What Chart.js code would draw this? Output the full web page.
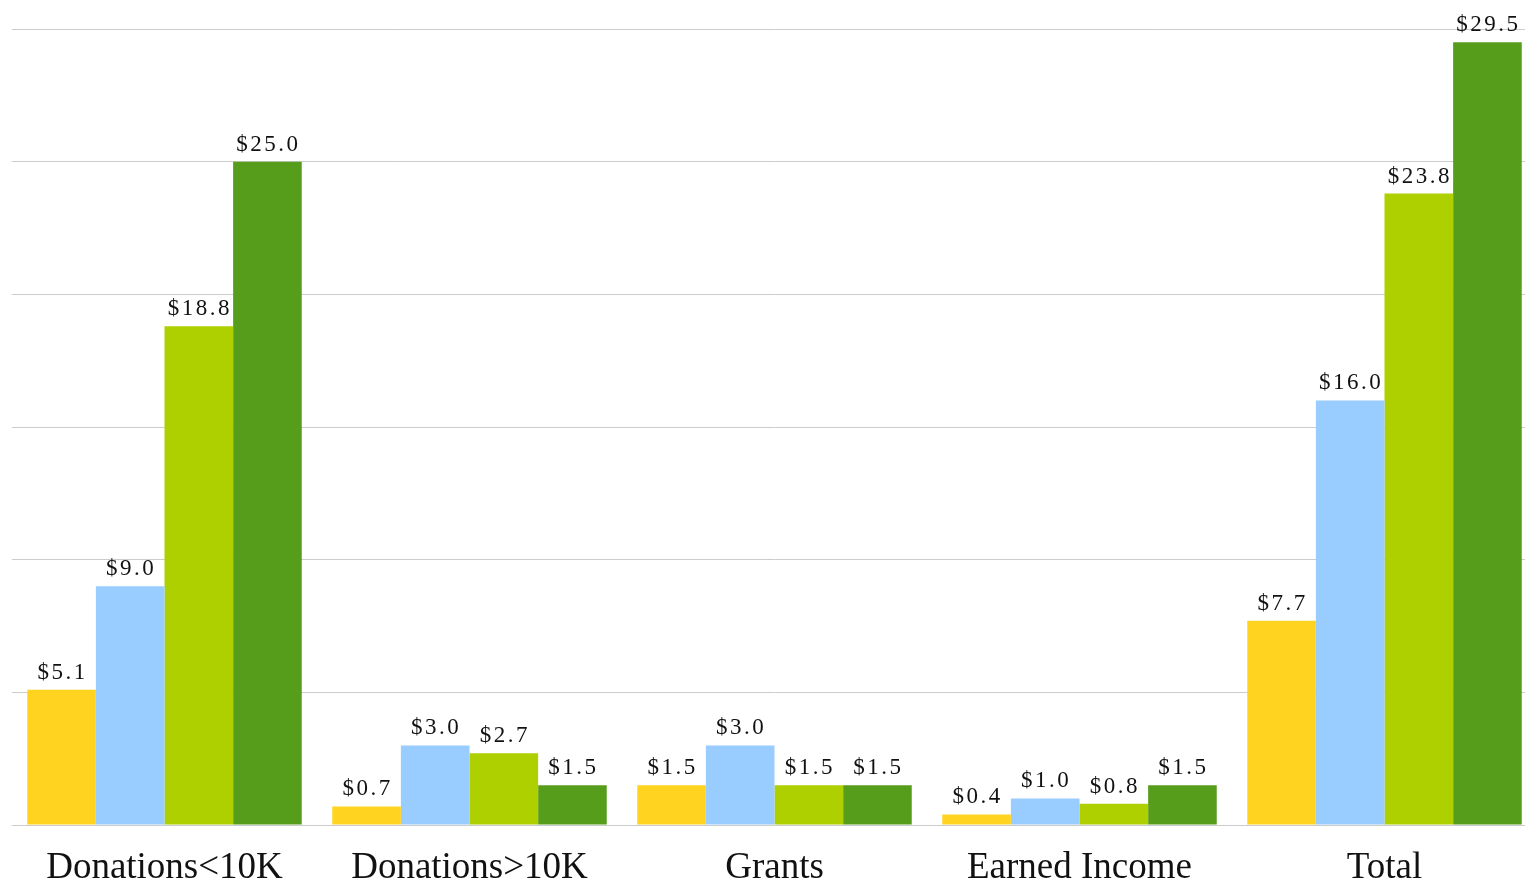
<!DOCTYPE html>
<html>
<head>
<meta charset="utf-8">
<script src="https://cdn.jsdelivr.net/npm/chart.js@4/dist/chart.umd.min.js"></script>
<style>
  html, body { margin: 0; padding: 0; background: #fff; overflow: hidden; }
  #wrap { width: 1537px; height: 879px; }
</style>
</head>
<body>
<div id="wrap"><canvas id="c" width="1537" height="879"></canvas></div>
<script>
const categories = ["Donations<10K", "Donations>10K", "Grants", "Earned Income", "Total"];
const series1 = [5.1, 0.7, 1.5, 0.4, 7.7];
const series2 = [9.0, 3.0, 3.0, 1.0, 16.0];
const series3 = [18.8, 2.7, 1.5, 0.8, 23.8];
const series4 = [25.0, 1.5, 1.5, 1.5, 29.5];
const colors = ["#FFD320", "#99CCFF", "#AECF00", "#579D1C"];

const FONT = "'Liberation Serif', 'DejaVu Serif', serif";

const labelPlugin = {
  id: 'valueLabels',
  afterDatasetsDraw(chart) {
    const ctx = chart.ctx;
    ctx.save();
    ctx.font = "23px " + FONT;
    ctx.fillStyle = "#111";
    ctx.textAlign = "center";
    ctx.textBaseline = "alphabetic";
    try { ctx.letterSpacing = "2.5px"; } catch (e) {}
    chart.data.datasets.forEach((ds, di) => {
      const meta = chart.getDatasetMeta(di);
      meta.data.forEach((bar, i) => {
        const v = ds.data[i];
        ctx.fillText("$" + v.toFixed(1), bar.x + 1, bar.y - 11);
      });
    });
    ctx.restore();
  }
};

new Chart(document.getElementById('c'), {
  type: 'bar',
  data: {
    labels: categories,
    datasets: [
      { data: series1, backgroundColor: colors[0] },
      { data: series2, backgroundColor: colors[1] },
      { data: series3, backgroundColor: colors[2] },
      { data: series4, backgroundColor: colors[3] }
    ]
  },
  options: {
    responsive: false,
    animation: false,
    layout: { padding: { left: 12, right: 0, top: 29, bottom: 0 } },
    datasets: { bar: { categoryPercentage: 0.9, barPercentage: 1.0, borderWidth: 0 } },
    plugins: { legend: { display: false }, tooltip: { enabled: false } },
    scales: {
      x: {
        grid: { display: false, drawTicks: false },
        border: { display: false },
        ticks: { font: { family: FONT, size: 37 }, color: "#111", padding: 21, maxRotation: 0, autoSkip: false },
        afterFit(scale) { scale.height = 54; }
      },
      y: {
        min: 0, max: 30,
        ticks: { display: false, stepSize: 5 },
        grid: { color: "#cccccc", lineWidth: 1, drawTicks: false },
        border: { display: false },
        afterFit(scale) { scale.width = 0; }
      }
    }
  },
  plugins: [labelPlugin]
});
</script>
</body>
</html>
